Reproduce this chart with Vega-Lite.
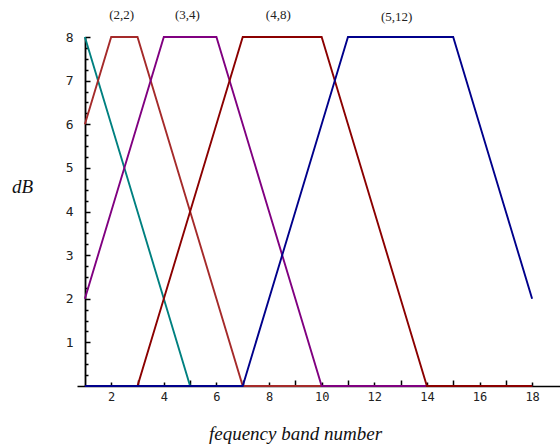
{
  "$schema": "https://vega.github.io/schema/vega-lite/v6.json",
  "width": 483,
  "height": 349,
  "autosize": {"type": "none"},
  "padding": {"left": 77, "top": 37, "right": 0, "bottom": 61},
  "background": "white",
  "config": {"view": {"stroke": null}, "axis": {"grid": false}},
  "resolve": {"scale": {"x": "shared", "y": "shared"}, "axis": {"x": "independent", "y": "independent"}},
  "layer": [
    {
      "data": {"values": [
        {"s": "(1,0)", "x": 1, "y": 8}, {"s": "(1,0)", "x": 2, "y": 6}, {"s": "(1,0)", "x": 3, "y": 4}, {"s": "(1,0)", "x": 4, "y": 2}, {"s": "(1,0)", "x": 5, "y": 0}, {"s": "(1,0)", "x": 6, "y": 0}, {"s": "(1,0)", "x": 7, "y": 0}, {"s": "(1,0)", "x": 8, "y": 0}, {"s": "(1,0)", "x": 9, "y": 0}, {"s": "(1,0)", "x": 10, "y": 0}, {"s": "(1,0)", "x": 11, "y": 0}, {"s": "(1,0)", "x": 12, "y": 0}, {"s": "(1,0)", "x": 13, "y": 0}, {"s": "(1,0)", "x": 14, "y": 0}, {"s": "(1,0)", "x": 15, "y": 0}, {"s": "(1,0)", "x": 16, "y": 0}, {"s": "(1,0)", "x": 17, "y": 0}, {"s": "(1,0)", "x": 18, "y": 0},
        {"s": "(2,2)", "x": 1, "y": 6}, {"s": "(2,2)", "x": 2, "y": 8}, {"s": "(2,2)", "x": 3, "y": 8}, {"s": "(2,2)", "x": 4, "y": 6}, {"s": "(2,2)", "x": 5, "y": 4}, {"s": "(2,2)", "x": 6, "y": 2}, {"s": "(2,2)", "x": 7, "y": 0}, {"s": "(2,2)", "x": 8, "y": 0}, {"s": "(2,2)", "x": 9, "y": 0}, {"s": "(2,2)", "x": 10, "y": 0}, {"s": "(2,2)", "x": 11, "y": 0}, {"s": "(2,2)", "x": 12, "y": 0}, {"s": "(2,2)", "x": 13, "y": 0}, {"s": "(2,2)", "x": 14, "y": 0}, {"s": "(2,2)", "x": 15, "y": 0}, {"s": "(2,2)", "x": 16, "y": 0}, {"s": "(2,2)", "x": 17, "y": 0}, {"s": "(2,2)", "x": 18, "y": 0},
        {"s": "(3,4)", "x": 1, "y": 2}, {"s": "(3,4)", "x": 2, "y": 4}, {"s": "(3,4)", "x": 3, "y": 6}, {"s": "(3,4)", "x": 4, "y": 8}, {"s": "(3,4)", "x": 5, "y": 8}, {"s": "(3,4)", "x": 6, "y": 8}, {"s": "(3,4)", "x": 7, "y": 6}, {"s": "(3,4)", "x": 8, "y": 4}, {"s": "(3,4)", "x": 9, "y": 2}, {"s": "(3,4)", "x": 10, "y": 0}, {"s": "(3,4)", "x": 11, "y": 0}, {"s": "(3,4)", "x": 12, "y": 0}, {"s": "(3,4)", "x": 13, "y": 0}, {"s": "(3,4)", "x": 14, "y": 0}, {"s": "(3,4)", "x": 15, "y": 0}, {"s": "(3,4)", "x": 16, "y": 0}, {"s": "(3,4)", "x": 17, "y": 0}, {"s": "(3,4)", "x": 18, "y": 0},
        {"s": "(4,8)", "x": 1, "y": 0}, {"s": "(4,8)", "x": 2, "y": 0}, {"s": "(4,8)", "x": 3, "y": 0}, {"s": "(4,8)", "x": 4, "y": 2}, {"s": "(4,8)", "x": 5, "y": 4}, {"s": "(4,8)", "x": 6, "y": 6}, {"s": "(4,8)", "x": 7, "y": 8}, {"s": "(4,8)", "x": 8, "y": 8}, {"s": "(4,8)", "x": 9, "y": 8}, {"s": "(4,8)", "x": 10, "y": 8}, {"s": "(4,8)", "x": 11, "y": 6}, {"s": "(4,8)", "x": 12, "y": 4}, {"s": "(4,8)", "x": 13, "y": 2}, {"s": "(4,8)", "x": 14, "y": 0}, {"s": "(4,8)", "x": 15, "y": 0}, {"s": "(4,8)", "x": 16, "y": 0}, {"s": "(4,8)", "x": 17, "y": 0}, {"s": "(4,8)", "x": 18, "y": 0},
        {"s": "(5,12)", "x": 1, "y": 0}, {"s": "(5,12)", "x": 2, "y": 0}, {"s": "(5,12)", "x": 3, "y": 0}, {"s": "(5,12)", "x": 4, "y": 0}, {"s": "(5,12)", "x": 5, "y": 0}, {"s": "(5,12)", "x": 6, "y": 0}, {"s": "(5,12)", "x": 7, "y": 0}, {"s": "(5,12)", "x": 8, "y": 2}, {"s": "(5,12)", "x": 9, "y": 4}, {"s": "(5,12)", "x": 10, "y": 6}, {"s": "(5,12)", "x": 11, "y": 8}, {"s": "(5,12)", "x": 12, "y": 8}, {"s": "(5,12)", "x": 13, "y": 8}, {"s": "(5,12)", "x": 14, "y": 8}, {"s": "(5,12)", "x": 15, "y": 8}, {"s": "(5,12)", "x": 16, "y": 6}, {"s": "(5,12)", "x": 17, "y": 4}, {"s": "(5,12)", "x": 18, "y": 2}
      ]},
      "mark": {"type": "line", "strokeWidth": 1.9, "clip": false},
      "encoding": {
        "x": {
          "field": "x", "type": "quantitative",
          "scale": {"domain": [0.7, 19.06], "nice": false, "zero": false},
          "axis": {
            "orient": "bottom",
            "values": [2, 4, 6, 8, 10, 12, 14, 16, 18],
            "tickSize": -4,
            "tickColor": "black", "tickWidth": 1.5,
            "domainColor": "black", "domainWidth": 1.5,
            "labelFont": "DejaVu Sans Mono", "labelFontSize": 12, "labelColor": "#222",
            "labelPadding": 9, "labelFlush": false, "labelOverlap": false,
            "title": "fequency band number",
            "titleFont": "Liberation Serif", "titleFontStyle": "italic", "titleFontWeight": "normal",
            "titleFontSize": 19, "titleColor": "#111",
            "titleX": 218, "titleY": 47, "titleAlign": "center", "titleBaseline": "middle"
          }
        },
        "y": {
          "field": "y", "type": "quantitative",
          "scale": {"domain": [0, 8], "nice": false},
          "axis": {
            "orient": "left",
            "values": [1, 2, 3, 4, 5, 6, 7, 8],
            "tickSize": -5,
            "tickColor": "black", "tickWidth": 1.5,
            "domainColor": "black", "domainWidth": 1.8,
            "offset": -8,
            "labelFont": "DejaVu Sans Mono", "labelFontSize": 13, "labelColor": "#222",
            "labelPadding": 17, "labelFlush": false, "labelOverlap": false,
            "title": "dB",
            "titleFont": "Liberation Serif", "titleFontStyle": "italic", "titleFontWeight": "normal",
            "titleFontSize": 19, "titleColor": "#111", "titleAngle": 0,
            "titleX": -63, "titleY": 149, "titleAlign": "center", "titleBaseline": "middle"
          }
        },
        "color": {
          "field": "s", "type": "nominal",
          "scale": {"domain": ["(1,0)", "(2,2)", "(3,4)", "(4,8)", "(5,12)"], "range": ["#008080", "#A52A2A", "#800080", "#8B0000", "#00008B"]},
          "legend": null
        }
      }
    },
    {
      "data": {"values": [
        {"label": "(2,2)", "x": 2.4, "y": 8.5},
        {"label": "(3,4)", "x": 4.9, "y": 8.5},
        {"label": "(4,8)", "x": 8.35, "y": 8.5},
        {"label": "(5,12)", "x": 12.85, "y": 8.45}
      ]},
      "mark": {"type": "text", "font": "Liberation Serif", "fontSize": 13, "baseline": "middle", "align": "center", "color": "#222"},
      "encoding": {
        "x": {
          "field": "x", "type": "quantitative",
          "scale": {"domain": [0.7, 19.06], "nice": false, "zero": false},
          "axis": {"orient": "bottom", "values": [3, 5, 7, 9, 11, 13, 15, 17], "tickSize": -6, "tickColor": "black", "tickWidth": 1.5, "labels": false, "domain": false, "title": null}
        },
        "y": {
          "field": "y", "type": "quantitative",
          "scale": {"domain": [0, 8], "nice": false},
          "axis": {"orient": "left", "offset": -8, "values": [0.25, 0.5, 0.75, 1.25, 1.5, 1.75, 2.25, 2.5, 2.75, 3.25, 3.5, 3.75, 4.25, 4.5, 4.75, 5.25, 5.5, 5.75, 6.25, 6.5, 6.75, 7.25, 7.5, 7.75], "tickSize": -3, "tickColor": "black", "tickWidth": 1.5, "labels": false, "domain": false, "title": null}
        },
        "text": {"field": "label", "type": "nominal"}
      }
    }
  ]
}
